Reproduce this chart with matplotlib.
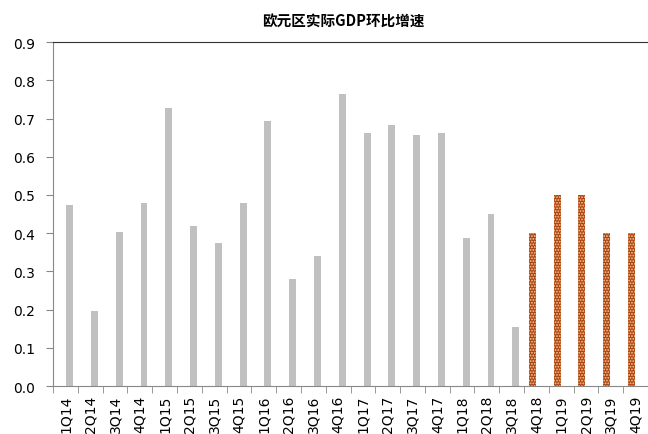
import numpy as np
import matplotlib
matplotlib.use('Agg')
import matplotlib.pyplot as plt

quarters = ['1Q14', '2Q14', '3Q14', '4Q14', '1Q15', '2Q15', '3Q15', '4Q15',
            '1Q16', '2Q16', '3Q16', '4Q16', '1Q17', '2Q17', '3Q17', '4Q17',
            '1Q18', '2Q18', '3Q18', '4Q18', '1Q19', '2Q19', '3Q19', '4Q19']
actual = [0.475, 0.197, 0.403, 0.48, 0.728, 0.42, 0.375, 0.48,
          0.693, 0.28, 0.34, 0.765, 0.663, 0.682, 0.658, 0.662,
          0.387, 0.45, 0.155, np.nan, np.nan, np.nan, np.nan, np.nan]
forecast = [np.nan] * 19 + [0.4, 0.5, 0.5, 0.4, 0.4]

plt.rcParams['font.family'] = ['DejaVu Sans']
plt.rcParams['hatch.color'] = '#f2c9a6'
plt.rcParams['hatch.linewidth'] = 0.9

fig = plt.figure(figsize=(6.48, 4.35), dpi=100)
ax = fig.add_axes([0.082, 0.11, 0.918, 0.791])

x = np.arange(len(quarters))
ax.bar(x + 0.165, actual, width=0.28, color='#c0c0c0', linewidth=0)
ax.bar(x - 0.165, forecast, width=0.28, color='#b0440c', hatch='......', linewidth=0)

ax.set_xlim(-0.5, len(quarters) - 0.5)
ax.set_ylim(0, 0.9)
ax.set_yticks(np.arange(0, 0.91, 0.1))
ax.set_yticklabels([f'{v:.1f}' for v in np.arange(0, 0.91, 0.1)], fontsize=10)

ax.set_xticks(x)
ax.set_xticklabels(quarters, rotation=90, fontsize=10)
ax.tick_params(axis='x', length=0, pad=6)
ax.set_xticks(np.arange(-0.5, len(quarters), 1), minor=True)
ax.tick_params(axis='x', which='minor', length=5, color='#888888')
ax.tick_params(axis='y', length=5, color='#888888', pad=8)

ax.spines['right'].set_visible(False)
ax.spines['top'].set_color('#333333')
ax.spines['left'].set_color('#888888')
ax.spines['bottom'].set_color('#888888')

fig.text(0.53, 0.95, '欧元区实际GDP环比增速', ha='center', va='center',
         fontsize=10.5, fontweight='bold', family=['Noto Sans CJK SC', 'DejaVu Sans'])

fig.savefig('out.png', dpi=100)
